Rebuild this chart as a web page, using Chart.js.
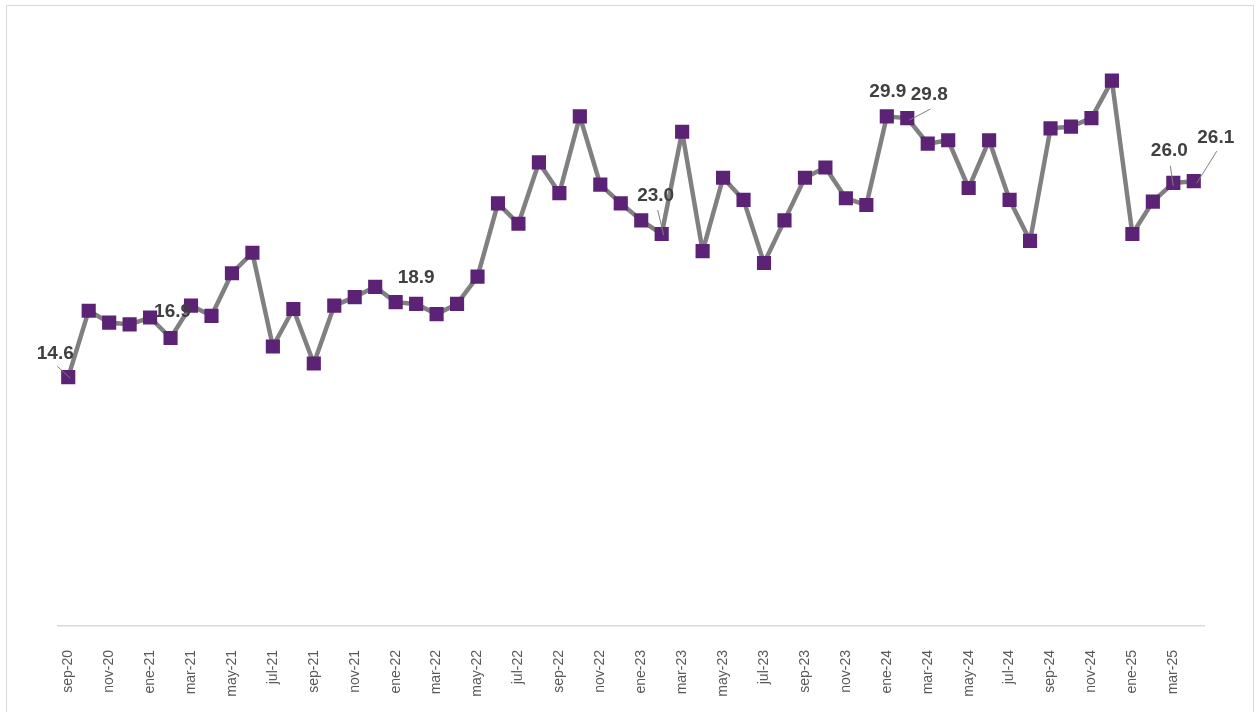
<!DOCTYPE html>
<html>
<head>
<meta charset="utf-8">
<script src="https://cdn.jsdelivr.net/npm/chart.js@4/dist/chart.umd.min.js"></script>
<style>
  html, body { margin: 0; padding: 0; background: #ffffff; }
  #wrap { position: relative; width: 1259px; height: 712px; overflow: hidden; }
  #frame { position: absolute; left: 6px; top: 5px; width: 1248px; height: 720px; border: 1px solid #d9d9d9; box-sizing: border-box; pointer-events: none; }
  canvas { position: absolute; left: 0; top: 0; }
</style>
</head>
<body>
<div id="wrap">
  <canvas id="c" width="1259" height="712"></canvas>
  <div id="frame"></div>
</div>
<script>
// Months (categories)
const months = [
  'sep-20','oct-20','nov-20','dic-20',
  'ene-21','feb-21','mar-21','abr-21','may-21','jun-21','jul-21','ago-21','sep-21','oct-21','nov-21','dic-21',
  'ene-22','feb-22','mar-22','abr-22','may-22','jun-22','jul-22','ago-22','sep-22','oct-22','nov-22','dic-22',
  'ene-23','feb-23','mar-23','abr-23','may-23','jun-23','jul-23','ago-23','sep-23','oct-23','nov-23','dic-23',
  'ene-24','feb-24','mar-24','abr-24','may-24','jun-24','jul-24','ago-24','sep-24','oct-24','nov-24','dic-24',
  'ene-25','feb-25','mar-25','abr-25'
];
// Series values
const values = [
  14.6, 18.5, 17.8, 17.7,
  18.1, 16.9, 18.8, 18.2, 20.7, 21.9, 16.4, 18.6, 15.4, 18.8, 19.3, 19.9,
  19.0, 18.9, 18.3, 18.9, 20.5, 24.8, 23.6, 27.2, 25.4, 29.9, 25.9, 24.8,
  23.8, 23.0, 29.0, 22.0, 26.3, 25.0, 21.3, 23.8, 26.3, 26.9, 25.1, 24.7,
  29.9, 29.8, 28.3, 28.5, 25.7, 28.5, 25.0, 22.6, 29.2, 29.3, 29.8, 32.0,
  23.0, 24.9, 26.0, 26.1
];
// Which points carry a value label
const labelled = ['sep-20','feb-21','feb-22','feb-23','ene-24','feb-24','mar-25','abr-25'];

// label placement relative to point (layout only)
const labelLayout = {
  'sep-20': { dx: -13, dy: -23, leader: [[-11, -11], [2, 1]] },
  'feb-21': { dx: 2,   dy: -26 },
  'feb-22': { dx: 0,   dy: -26 },
  'feb-23': { dx: -6,  dy: -38, leader: [[-4, -24], [2, 1]] },
  'ene-24': { dx: 1,   dy: -25 },
  'feb-24': { dx: 22,  dy: -23, leader: [[23, -9], [2, 2]] },
  'mar-25': { dx: -4,  dy: -32, leader: [[-3, -17], [0, 3]] },
  'abr-25': { dx: 22,  dy: -43, leader: [[23, -30], [3, 2]] }
};

const labelPlugin = {
  id: 'valueLabels',
  afterDatasetsDraw(chart) {
    const ctx = chart.ctx;
    const meta = chart.getDatasetMeta(0);
    ctx.save();
    ctx.font = 'bold 19px "Liberation Sans", Arial, sans-serif';
    ctx.fillStyle = '#404040';
    ctx.textAlign = 'center';
    ctx.textBaseline = 'middle';
    labelled.forEach(m => {
      const i = months.indexOf(m);
      const pt = meta.data[i];
      const L = labelLayout[m];
      if (L.leader) {
        ctx.strokeStyle = '#7f7f7f';
        ctx.lineWidth = 1;
        ctx.beginPath();
        ctx.moveTo(pt.x + L.leader[0][0], pt.y + L.leader[0][1]);
        ctx.lineTo(pt.x + L.leader[1][0], pt.y + L.leader[1][1]);
        ctx.stroke();
      }
      ctx.fillText(values[i].toFixed(1), pt.x + L.dx, pt.y + L.dy);
    });
    ctx.restore();
  }
};

new Chart(document.getElementById('c'), {
  type: 'line',
  data: {
    labels: months,
    datasets: [{
      data: values,
      borderColor: '#808080',
      borderWidth: 4.5,
      borderJoinStyle: 'round',
      borderCapStyle: 'round',
      tension: 0,
      pointStyle: 'rect',
      pointRadius: 10,
      pointHoverRadius: 10,
      pointBackgroundColor: '#5c2275',
      pointBorderColor: '#5c2275',
      pointBorderWidth: 0
    }]
  },
  options: {
    responsive: false,
    animation: false,
    events: [],
    layout: { padding: { left: 58, right: 55, top: 29.5, bottom: 0 } },
    plugins: { legend: { display: false }, tooltip: { enabled: false } },
    scales: {
      x: {
        offset: true,
        grid: { display: false, drawTicks: false },
        border: { display: true, color: '#d9d9d9', width: 1.5 },
        afterFit: (s) => { s.height = 86; },
        ticks: {
          autoSkip: false,
          minRotation: 90,
          maxRotation: 90,
          padding: 24,
          color: '#595959',
          font: { size: 14, family: '"Liberation Sans", Arial, sans-serif' },
          callback: function(v, i) { return i % 2 === 0 ? months[i] : ''; }
        }
      },
      y: {
        display: false,
        min: 0,
        max: 35
      }
    }
  },
  plugins: [labelPlugin]
});
</script>
</body>
</html>
